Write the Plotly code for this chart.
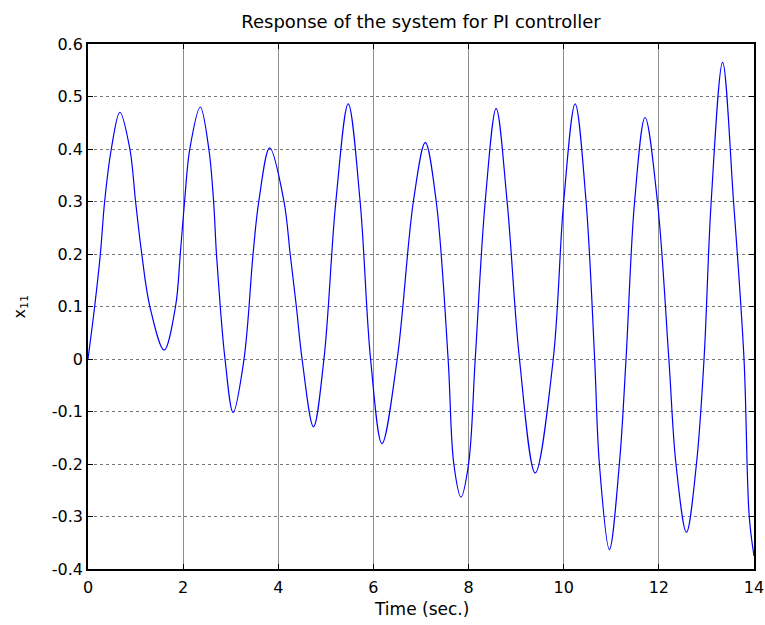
import plotly.graph_objects as go

# Points (time in sec., response x11)
time_s = [0.00, 0.14, 0.26, 0.35, 0.49, 0.67, 0.88, 1.00, 1.13, 1.30, 1.60, 1.84, 1.94, 2.03,
          2.14, 2.36, 2.54, 2.64, 2.70, 2.78, 2.88, 3.05, 3.28, 3.47, 3.59, 3.82, 4.12, 4.25,
          4.38, 4.50, 4.74, 4.96, 5.21, 5.47, 5.72, 5.94, 6.18, 6.50, 6.84, 7.09, 7.32, 7.57,
          7.69, 7.84, 8.00, 8.14, 8.35, 8.58, 8.81, 9.07, 9.40, 9.78, 10.00, 10.24, 10.47,
          10.65, 10.75, 10.96, 11.17, 11.31, 11.49, 11.71, 11.97, 12.21, 12.36, 12.58, 12.79,
          12.95, 13.10, 13.34, 13.57, 13.79, 13.90, 14.00]
x11 = [0.000, 0.100, 0.200, 0.300, 0.400, 0.470, 0.400, 0.300, 0.200, 0.100, 0.017, 0.100, 0.200, 0.300,
       0.400, 0.480, 0.400, 0.300, 0.200, 0.100, 0.000, -0.102, 0.000, 0.200, 0.300, 0.402, 0.300, 0.200,
       0.100, 0.000, -0.129, 0.000, 0.300, 0.486, 0.300, 0.000, -0.161, 0.000, 0.300, 0.412, 0.300, 0.000,
       -0.200, -0.263, -0.200, 0.000, 0.300, 0.477, 0.300, 0.000, -0.217, 0.000, 0.300, 0.486, 0.300,
       0.000, -0.200, -0.363, -0.200, 0.000, 0.300, 0.460, 0.300, 0.000, -0.200, -0.330, -0.200,
       0.000, 0.300, 0.565, 0.300, 0.000, -0.300, -0.375]

x_ticks = [0, 2, 4, 6, 8, 10, 12, 14]
y_ticks = [-0.4, -0.3, -0.2, -0.1, 0, 0.1, 0.2, 0.3, 0.4, 0.5, 0.6]
y_tick_text = ["-0.4", "-0.3", "-0.2", "-0.1", "0", "0.1", "0.2", "0.3", "0.4", "0.5", "0.6"]

fig = go.Figure()
fig.add_trace(go.Scatter(
    x=time_s, y=x11, mode="lines",
    line=dict(color="#0000ff", width=1.2, shape="spline", smoothing=1.0),
    showlegend=False, hoverinfo="skip",
))

W, H = 765, 625
ML, MR, MT, MB = 88, 11, 44, 56
plot_h = H - MT - MB
plot_w = W - ML - MR

font_family = "DejaVu Sans, Liberation Sans, Arial, sans-serif"
fig.update_layout(
    width=W, height=H,
    margin=dict(l=ML, r=MR, t=MT, b=MB),
    paper_bgcolor="white", plot_bgcolor="white",
    font=dict(family=font_family, size=16, color="black"),
    title=dict(text="Response of the system for PI controller", x=0.5, xref="paper",
               y=1 - 22 / H, yref="container", xanchor="center", yanchor="middle",
               font=dict(size=18, family=font_family, color="black")),
    xaxis=dict(range=[0, 14], tickvals=x_ticks, ticks="inside", ticklen=5, tickcolor="black",
               showline=True, linecolor="black", linewidth=1.8, mirror="ticks",
               showgrid=True, gridcolor="#8c8c8c", gridwidth=1, zeroline=False,
               automargin=False, tickfont=dict(size=16), ticklabelstandoff=3),
    yaxis=dict(range=[-0.4, 0.6], tickvals=y_ticks, ticktext=y_tick_text, ticks="inside", ticklen=5,
               tickcolor="black", showline=True, linecolor="black", linewidth=1.8, mirror="ticks",
               showgrid=True, gridcolor="#777777", gridwidth=1, griddash="dot", zeroline=False,
               automargin=False, tickfont=dict(size=16)),
    annotations=[
        dict(text="Time (sec.)", xref="paper", yref="paper", x=0.5,
             y=(H - MB - 609) / plot_h,
             xanchor="center", yanchor="middle", showarrow=False, font=dict(size=17)),
        dict(text="x<sub>11</sub>", xref="paper", yref="paper", x=(20 - ML) / plot_w, y=0.5,
             xanchor="center", yanchor="middle", textangle=-90, showarrow=False,
             font=dict(size=16)),
    ],
)

fig.write_html(
    "out.html",
    config={"displayModeBar": False},
    post_script="document.body.style.margin='0px';document.body.style.overflow='hidden';",
)
